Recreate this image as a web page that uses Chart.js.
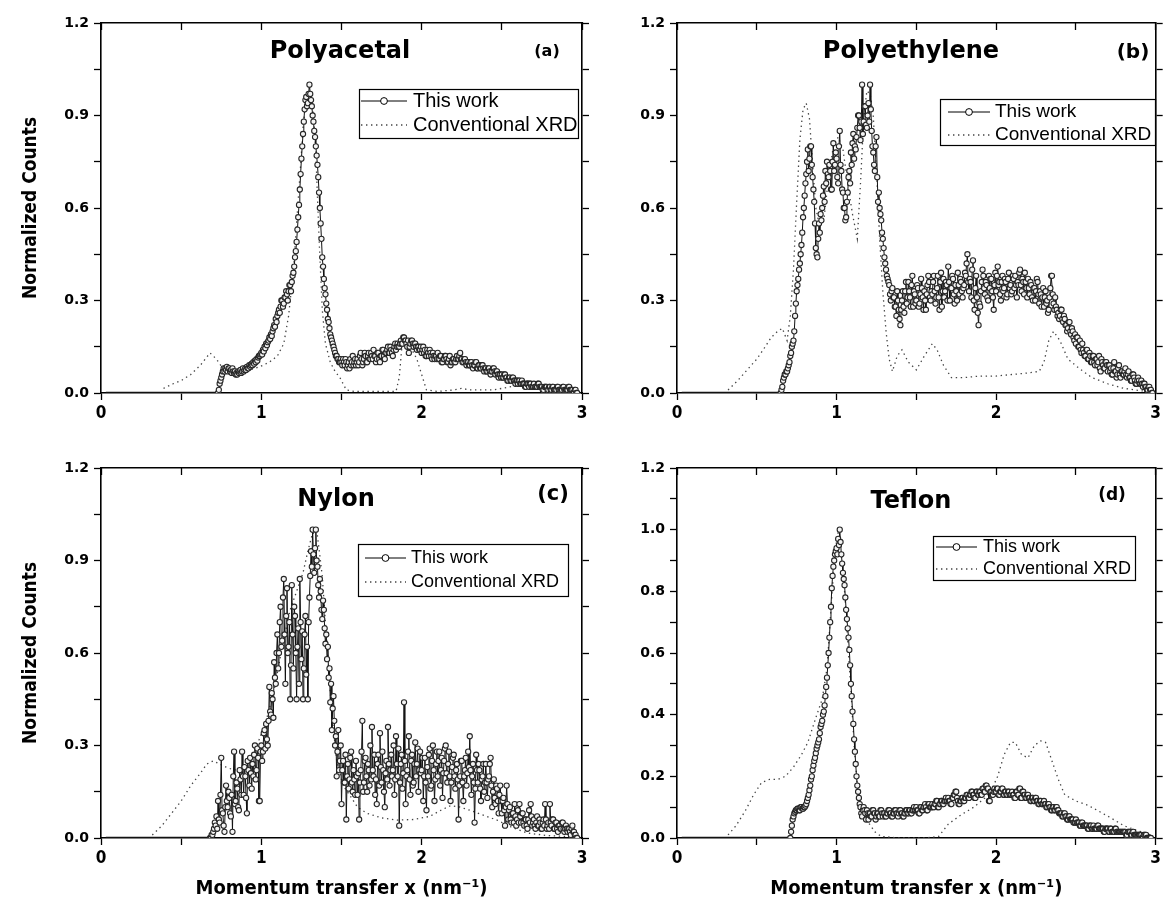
<!DOCTYPE html>
<html><head><meta charset="utf-8">
<script src="https://cdn.jsdelivr.net/npm/chart.js@4/dist/chart.umd.min.js"></script>
<style>
html,body{margin:0;padding:0;background:#fff;}
#wrap{position:relative;width:1164px;height:913px;background:#fff;}
canvas{position:absolute;left:0;top:0;}
</style></head><body>
<div id="wrap">
<canvas id="cA" width="1164" height="913"></canvas>
<canvas id="cB" width="1164" height="913"></canvas>
<canvas id="cC" width="1164" height="913"></canvas>
<canvas id="cD" width="1164" height="913"></canvas>
</div>
<script>
// ---------------- data ----------------
const seriesNames = ['This work', 'Conventional XRD'];
const panelTitles = ['Polyacetal', 'Polyethylene', 'Nylon', 'Teflon'];
const panelTags = ['(a)', '(b)', '(c)', '(d)'];
const yAxisTitle = 'Normalized Counts';
const xAxisTitle = 'Momentum transfer x (nm\u207B\u00B9)';
const xTickLabels = ['0', '1', '2', '3'];

const workStep = 0.005;       // channel spacing of the "This work" series
const baselineStartX = 0.03;  // zero-count stretch begins here

// (a) Polyacetal  (first value at x = 0.73)
const polyacetalWorkStart = 0.73;
const polyacetalWork = [
  0.00,0.01,0.03,0.04,0.05,0.06,0.07,0.08,0.07,0.08,0.075,0.085,0.07,0.08,
  0.08,0.07,0.075,0.065,0.08,0.07,0.065,0.07,0.06,0.065,0.06,0.07,0.065,0.07,0.075,0.065,0.07,0.08,0.07,0.075,
  0.08,0.075,0.085,0.08,0.08,0.09,0.085,0.09,0.095,0.09,0.10,0.095,0.105,0.10,0.11,0.105,0.115,0.12,0.12,0.125,
  0.13,0.125,0.14,0.135,0.15,0.145,0.16,0.155,0.165,0.17,0.18,0.175,0.19,0.185,0.20,0.21,0.22,0.215,0.24,0.23,
  0.25,0.26,0.27,0.26,0.28,0.30,0.30,0.28,0.29,0.31,0.31,0.33,0.32,0.30,0.33,0.35,0.35,0.33,0.36,0.38,
  0.39,0.41,0.44,0.46,0.49,0.53,0.57,0.61,0.66,0.71,0.76,0.80,0.84,0.88,0.92,0.95,0.96,0.93,0.94,0.97,
  1.00,0.97,0.95,0.93,0.90,0.88,0.85,0.83,0.80,0.77,0.74,0.70,0.65,0.60,0.55,0.50,0.44,0.41,0.37,0.34,
  0.32,0.29,0.27,0.24,0.23,0.21,0.19,0.18,0.17,0.16,0.15,0.14,0.13,0.12,0.12,0.11,0.11,0.10,0.10,0.11,
  0.10,0.09,0.11,0.10,0.09,0.11,0.10,0.08,0.09,0.10,0.08,0.11,0.09,0.10,0.12,0.09,0.10,0.11,0.09,0.10,
  0.11,0.09,0.10,0.12,0.13,0.11,0.09,0.10,0.11,0.13,0.12,0.10,0.10,0.12,0.13,0.11,0.11,0.13,0.12,0.11,
  0.14,0.12,0.12,0.10,0.11,0.13,0.13,0.11,0.10,0.12,0.12,0.14,0.14,0.12,0.11,0.13,0.13,0.14,0.15,0.13,
  0.13,0.15,0.14,0.13,0.12,0.14,0.15,0.16,0.14,0.15,0.16,0.15,0.15,0.16,0.17,0.16,0.16,0.18,0.18,0.17,
  0.17,0.16,0.15,0.17,0.13,0.15,0.16,0.17,0.17,0.16,0.15,0.16,0.16,0.15,0.14,0.15,0.15,0.14,0.14,0.15,
  0.13,0.14,0.15,0.13,0.14,0.12,0.12,0.14,0.13,0.12,0.14,0.13,0.12,0.11,0.13,0.12,0.11,0.12,0.12,0.11,
  0.13,0.11,0.11,0.12,0.12,0.10,0.10,0.11,0.11,0.12,0.12,0.11,0.10,0.10,0.11,0.12,0.09,0.10,0.10,0.11,
  0.11,0.10,0.10,0.11,0.12,0.11,0.11,0.12,0.13,0.11,0.11,0.10,0.10,0.11,0.11,0.10,0.09,0.10,0.10,0.09,
  0.09,0.10,0.10,0.09,0.08,0.09,0.09,0.10,0.10,0.08,0.08,0.09,0.09,0.08,0.08,0.09,0.09,0.08,0.07,0.08,
  0.08,0.07,0.07,0.08,0.08,0.07,0.06,0.07,0.07,0.08,0.08,0.07,0.06,0.07,0.07,0.06,0.05,0.06,0.06,0.05,
  0.06,0.05,0.05,0.06,0.06,0.05,0.05,0.04,0.04,0.05,0.05,0.04,0.04,0.05,0.05,0.04,0.04,0.03,0.04,0.04,
  0.03,0.04,0.04,0.03,0.03,0.04,0.03,0.03,0.03,0.02,0.02,0.03,0.03,0.03,0.02,0.03,0.03,0.02,0.02,0.02,
  0.03,0.02,0.02,0.02,0.02,0.03,0.03,0.02,0.02,0.02,0.02,0.01,0.01,0.02,0.02,0.02,0.02,0.01,0.01,0.02,
  0.02,0.01,0.01,0.02,0.02,0.01,0.01,0.01,0.01,0.02,0.02,0.01,0.01,0.01,0.01,0.01,0.02,0.02,0.01,0.01,
  0.01,0.01,0.01,0.02,0.02,0.01,0.01,0.01,0.01,0.00,0.00,0.01,0.01,0.00,0.00
];
const polyacetalXrdX = [0.39,0.45,0.50,0.56,0.62,0.68,0.72,0.76,0.82,0.88,0.93,0.99,1.05,1.10,1.14,1.17,1.20,1.22,1.24,1.26,1.28,1.30,1.32,1.34,1.36,1.38,1.40,1.43,1.46,1.49,1.53,1.58,1.70,1.84,1.86,1.88,1.90,1.94,1.97,2.00,2.03,2.10,2.20,2.25,2.30,2.45,2.55,2.62,2.68,2.75,2.85,2.97];
const polyacetalXrdY = [0.015,0.03,0.04,0.06,0.09,0.13,0.11,0.08,0.065,0.068,0.075,0.085,0.10,0.12,0.16,0.25,0.40,0.55,0.70,0.86,0.96,0.99,0.93,0.78,0.50,0.27,0.16,0.10,0.07,0.05,0.01,0.005,0.005,0.005,0.05,0.17,0.16,0.14,0.11,0.06,0.01,0.005,0.01,0.015,0.01,0.01,0.02,0.025,0.02,0.01,0.01,0.005];

// (b) Polyethylene  (first value at x = 0.65)
const polyethyleneWorkStart = 0.65;
const polyethyleneWork = [
  0.00,0.01,0.02,0.04,0.05,0.06,0.06,0.07,0.07,0.08,
  0.09,0.10,0.12,0.13,0.15,0.16,0.17,0.20,0.25,0.29,0.33,0.35,0.37,0.40,0.42,0.45,0.48,0.52,0.57,0.60,
  0.64,0.68,0.71,0.75,0.79,0.72,0.76,0.80,0.80,0.74,0.70,0.66,0.62,0.55,0.47,0.45,0.44,0.50,0.55,0.52,
  0.58,0.56,0.60,0.64,0.67,0.62,0.72,0.68,0.75,0.71,0.70,0.74,0.72,0.66,0.66,0.75,0.81,0.72,0.74,0.78,
  0.76,0.70,0.68,0.80,0.85,0.74,0.72,0.66,0.65,0.60,0.60,0.56,0.57,0.62,0.65,0.70,0.72,0.68,0.78,0.74,
  0.81,0.84,0.76,0.80,0.79,0.83,0.86,0.90,0.90,0.86,0.82,0.88,1.00,0.84,0.88,0.93,0.93,0.87,0.86,0.90,
  0.94,0.88,1.00,0.92,0.85,0.80,0.78,0.74,0.72,0.80,0.83,0.70,0.62,0.65,0.60,0.58,0.56,0.52,0.50,0.47,
  0.44,0.42,0.40,0.38,0.37,0.36,0.35,0.32,0.30,0.33,0.34,0.31,0.31,0.28,0.28,0.25,0.33,0.30,0.27,0.24,
  0.22,0.27,0.30,0.33,0.28,0.26,0.33,0.36,0.29,0.31,0.36,0.33,0.31,0.28,0.35,0.38,0.28,0.33,0.32,0.29,
  0.30,0.35,0.34,0.28,0.29,0.32,0.37,0.34,0.31,0.27,0.33,0.30,0.27,0.32,0.35,0.38,0.36,0.31,0.30,0.33,
  0.32,0.36,0.38,0.33,0.29,0.31,0.34,0.38,0.31,0.27,0.36,0.39,0.28,0.33,0.37,0.31,0.33,0.36,0.35,0.30,
  0.41,0.36,0.30,0.34,0.34,0.38,0.37,0.32,0.29,0.35,0.33,0.30,0.39,0.35,0.32,0.37,0.36,0.33,0.31,0.34,
  0.35,0.39,0.38,0.42,0.45,0.36,0.33,0.37,0.36,0.31,0.40,0.43,0.30,0.27,0.34,0.38,0.31,0.26,0.22,0.29,
  0.28,0.33,0.36,0.40,0.38,0.34,0.32,0.36,0.35,0.31,0.30,0.38,0.34,0.37,0.37,0.33,0.31,0.27,0.35,0.39,
  0.33,0.38,0.41,0.35,0.36,0.32,0.30,0.36,0.38,0.33,0.34,0.37,0.36,0.31,0.32,0.37,0.39,0.34,0.35,0.32,
  0.33,0.38,0.37,0.34,0.38,0.35,0.31,0.36,0.35,0.39,0.40,0.35,0.33,0.37,0.36,0.32,0.39,0.36,0.34,0.31,
  0.37,0.34,0.32,0.36,0.35,0.31,0.30,0.34,0.34,0.30,0.33,0.37,0.36,0.32,0.29,0.33,0.32,0.28,0.31,0.34,
  0.28,0.31,0.33,0.29,0.30,0.26,0.27,0.31,0.34,0.38,0.38,0.32,0.29,0.27,0.31,0.28,0.27,0.25,0.26,0.24,
  0.25,0.27,0.27,0.24,0.23,0.25,0.24,0.22,0.22,0.20,0.21,0.23,0.23,0.20,0.19,0.21,0.20,0.18,0.17,0.19,
  0.16,0.18,0.18,0.15,0.15,0.17,0.14,0.13,0.16,0.14,0.13,0.12,0.12,0.14,0.14,0.11,0.11,0.13,0.12,0.10,
  0.10,0.12,0.12,0.10,0.09,0.11,0.11,0.09,0.10,0.12,0.08,0.07,0.11,0.10,0.09,0.08,0.08,0.10,0.10,0.09,
  0.07,0.09,0.09,0.07,0.08,0.06,0.06,0.08,0.10,0.07,0.07,0.05,0.06,0.08,0.09,0.06,0.05,0.07,0.07,0.06,
  0.06,0.07,0.08,0.06,0.05,0.06,0.07,0.05,0.05,0.04,0.04,0.06,0.06,0.05,0.04,0.03,0.03,0.04,0.05,0.04,
  0.03,0.03,0.04,0.03,0.02,0.03,0.03,0.02,0.02,0.01,0.01,0.02,0.02,0.01,0.01,0.00,0.00
];
const polyethyleneXrdX = [0.32,0.38,0.44,0.50,0.54,0.59,0.63,0.66,0.69,0.71,0.73,0.75,0.77,0.79,0.81,0.83,0.85,0.87,0.89,0.92,0.95,0.98,1.01,1.04,1.07,1.10,1.13,1.15,1.17,1.19,1.21,1.23,1.25,1.27,1.29,1.31,1.33,1.35,1.38,1.41,1.45,1.50,1.55,1.60,1.63,1.67,1.72,1.80,1.90,2.00,2.10,2.20,2.27,2.30,2.33,2.36,2.40,2.45,2.52,2.60,2.70,2.80,2.90,2.97];
const polyethyleneXrdY = [0.01,0.04,0.075,0.11,0.14,0.18,0.20,0.21,0.17,0.25,0.40,0.62,0.82,0.92,0.94,0.89,0.74,0.60,0.55,0.56,0.70,0.80,0.83,0.79,0.68,0.58,0.50,0.68,0.89,0.98,0.97,0.90,0.72,0.50,0.33,0.20,0.11,0.07,0.12,0.14,0.10,0.075,0.12,0.16,0.14,0.09,0.05,0.05,0.055,0.055,0.06,0.065,0.07,0.10,0.17,0.20,0.17,0.11,0.08,0.05,0.03,0.015,0.008,0.003];

// (c) Nylon  (first value at x = 0.68)
const nylonWorkStart = 0.68;
const nylonWork = [
  0.00,0.00,0.01,0.01,
  0.02,0.03,0.05,0.04,0.07,0.03,0.12,0.06,0.05,0.14,0.26,0.09,0.08,0.04,0.02,0.10,0.17,0.12,0.10,0.15,
  0.13,0.08,0.07,0.14,0.02,0.20,0.28,0.11,0.12,0.18,0.16,0.10,0.09,0.22,0.19,0.14,0.28,0.20,0.14,0.23,
  0.20,0.13,0.08,0.25,0.22,0.17,0.26,0.21,0.16,0.24,0.20,0.27,0.30,0.19,0.22,0.29,0.26,0.12,0.12,0.28,
  0.30,0.25,0.28,0.34,0.35,0.29,0.37,0.32,0.30,0.38,0.49,0.41,0.40,0.47,0.45,0.39,0.57,0.52,0.50,0.60,
  0.66,0.55,0.60,0.70,0.75,0.62,0.64,0.78,0.84,0.66,0.50,0.72,0.81,0.60,0.62,0.70,0.45,0.56,0.82,0.66,
  0.55,0.75,0.72,0.60,0.45,0.62,0.68,0.50,0.84,0.70,0.58,0.67,0.45,0.55,0.66,0.72,0.53,0.62,0.45,0.70,
  0.78,0.85,0.93,0.88,1.00,0.92,0.86,0.94,1.00,0.90,0.88,0.82,0.78,0.84,0.80,0.74,0.71,0.77,0.74,0.68,
  0.63,0.66,0.58,0.62,0.52,0.55,0.44,0.50,0.35,0.42,0.46,0.38,0.30,0.33,0.20,0.28,0.35,0.22,0.25,0.30,
  0.11,0.22,0.25,0.18,0.18,0.27,0.06,0.20,0.24,0.16,0.19,0.26,0.28,0.18,0.15,0.22,0.19,0.14,0.25,0.20,
  0.14,0.21,0.06,0.18,0.22,0.28,0.38,0.15,0.18,0.25,0.26,0.20,0.15,0.24,0.22,0.17,0.30,0.19,0.36,0.22,
  0.20,0.27,0.14,0.19,0.11,0.24,0.27,0.17,0.34,0.23,0.18,0.28,0.22,0.15,0.10,0.21,0.25,0.19,0.36,0.24,
  0.17,0.22,0.27,0.20,0.22,0.30,0.14,0.19,0.33,0.24,0.20,0.29,0.04,0.18,0.24,0.27,0.16,0.21,0.44,0.25,
  0.11,0.20,0.22,0.28,0.33,0.19,0.14,0.25,0.27,0.17,0.18,0.24,0.31,0.20,0.24,0.29,0.15,0.22,0.28,0.21,
  0.22,0.26,0.12,0.20,0.26,0.18,0.09,0.23,0.20,0.27,0.29,0.16,0.17,0.25,0.30,0.22,0.12,0.19,0.24,0.28,
  0.20,0.25,0.28,0.17,0.22,0.26,0.13,0.21,0.25,0.29,0.30,0.21,0.18,0.24,0.28,0.20,0.12,0.18,0.23,0.26,
  0.27,0.20,0.16,0.22,0.24,0.19,0.06,0.17,0.20,0.25,0.25,0.18,0.12,0.20,0.22,0.26,0.17,0.21,0.28,0.23,
  0.33,0.22,0.14,0.20,0.24,0.18,0.05,0.16,0.27,0.22,0.18,0.24,0.22,0.16,0.12,0.19,0.20,0.24,0.15,0.18,
  0.24,0.18,0.13,0.19,0.20,0.24,0.26,0.17,0.10,0.15,0.19,0.13,0.11,0.17,0.16,0.12,0.08,0.14,0.17,0.12,
  0.08,0.12,0.13,0.09,0.04,0.10,0.17,0.11,0.06,0.09,0.10,0.06,0.05,0.08,0.08,0.05,0.11,0.07,0.04,0.06,
  0.09,0.05,0.11,0.07,0.05,0.08,0.08,0.05,0.04,0.06,0.06,0.04,0.03,0.06,0.09,0.05,0.11,0.07,0.04,0.05,
  0.06,0.04,0.03,0.05,0.07,0.04,0.04,0.06,0.05,0.03,0.03,0.05,0.06,0.04,0.11,0.06,0.03,0.04,0.05,0.03,
  0.11,0.05,0.04,0.06,0.06,0.03,0.03,0.05,0.05,0.03,0.02,0.04,0.04,0.03,0.03,0.05,0.05,0.03,0.02,0.03,
  0.04,0.03,0.02,0.03,0.03,0.02,0.01,0.03,0.04,0.02,0.02,0.01,0.01,0.00,0.00
];
const nylonXrdX = [0.32,0.38,0.44,0.50,0.56,0.62,0.66,0.70,0.74,0.78,0.83,0.88,0.93,0.98,1.03,1.08,1.13,1.18,1.22,1.26,1.29,1.32,1.35,1.38,1.41,1.44,1.47,1.51,1.55,1.60,1.66,1.75,1.85,1.95,2.05,2.12,2.18,2.24,2.30,2.38,2.47,2.56,2.66,2.78,2.90,2.97];
const nylonXrdY = [0.01,0.04,0.08,0.12,0.17,0.21,0.24,0.25,0.24,0.23,0.22,0.23,0.26,0.31,0.38,0.48,0.62,0.74,0.80,0.86,0.93,0.99,0.98,0.85,0.62,0.40,0.25,0.17,0.14,0.10,0.08,0.065,0.058,0.06,0.07,0.09,0.105,0.10,0.09,0.075,0.058,0.035,0.016,0.008,0.005,0.003];

// (d) Teflon  (first value at x = 0.71)
const teflonWorkStart = 0.71;
const teflonWork = [
  0.00,0.02,0.04,0.06,0.07,0.08,0.085,0.09,0.09,0.095,0.095,0.09,0.09,0.10,0.10,0.095,0.095,0.10,
  0.10,0.105,0.11,0.12,0.13,0.14,0.155,0.17,0.19,0.20,0.22,0.235,0.25,0.26,0.275,0.29,0.30,0.31,0.32,0.34,
  0.36,0.37,0.38,0.40,0.41,0.43,0.46,0.49,0.52,0.56,0.60,0.65,0.70,0.75,0.81,0.85,0.88,0.90,0.92,0.93,
  0.94,0.92,0.97,0.95,1.00,0.96,0.92,0.89,0.86,0.84,0.82,0.78,0.74,0.71,0.68,0.65,0.61,0.56,0.50,0.46,
  0.41,0.37,0.32,0.28,0.24,0.20,0.17,0.15,0.13,0.11,0.10,0.08,0.07,0.09,0.10,0.09,0.08,0.06,0.09,0.08,
  0.06,0.08,0.08,0.07,0.07,0.09,0.09,0.08,0.08,0.06,0.07,0.08,0.08,0.07,0.07,0.09,0.09,0.08,0.07,0.08,
  0.08,0.07,0.07,0.08,0.08,0.09,0.09,0.08,0.08,0.07,0.07,0.08,0.08,0.09,0.09,0.08,0.08,0.07,0.08,0.09,
  0.09,0.08,0.08,0.07,0.07,0.08,0.08,0.09,0.09,0.08,0.08,0.09,0.09,0.08,0.08,0.09,0.09,0.10,0.09,0.09,
  0.10,0.09,0.09,0.08,0.08,0.10,0.10,0.09,0.09,0.10,0.10,0.11,0.10,0.09,0.09,0.11,0.11,0.10,0.10,0.10,
  0.11,0.10,0.10,0.11,0.11,0.12,0.12,0.10,0.10,0.11,0.11,0.12,0.12,0.11,0.11,0.12,0.12,0.13,0.12,0.12,
  0.13,0.12,0.12,0.11,0.11,0.13,0.13,0.14,0.14,0.15,0.15,0.13,0.12,0.11,0.11,0.12,0.12,0.13,0.13,0.12,
  0.12,0.13,0.13,0.14,0.14,0.13,0.13,0.14,0.14,0.15,0.15,0.14,0.14,0.13,0.13,0.15,0.15,0.14,0.14,0.15,
  0.15,0.14,0.14,0.16,0.16,0.15,0.15,0.17,0.17,0.16,0.16,0.12,0.12,0.15,0.15,0.14,0.14,0.15,0.16,0.15,
  0.15,0.16,0.16,0.14,0.14,0.15,0.15,0.16,0.16,0.14,0.14,0.15,0.15,0.14,0.14,0.15,0.15,0.14,0.14,0.14,
  0.15,0.14,0.14,0.13,0.13,0.15,0.15,0.14,0.14,0.16,0.16,0.13,0.13,0.15,0.15,0.14,0.14,0.13,0.13,0.14,
  0.14,0.13,0.13,0.12,0.12,0.13,0.13,0.12,0.12,0.13,0.13,0.12,0.12,0.11,0.11,0.12,0.12,0.11,0.11,0.11,
  0.12,0.11,0.11,0.10,0.10,0.11,0.11,0.10,0.10,0.09,0.09,0.10,0.10,0.09,0.09,0.10,0.10,0.09,0.09,0.08,
  0.08,0.08,0.08,0.07,0.07,0.08,0.08,0.07,0.07,0.06,0.06,0.07,0.07,0.06,0.06,0.06,0.06,0.05,0.05,0.05,
  0.06,0.05,0.05,0.05,0.05,0.04,0.04,0.05,0.05,0.04,0.04,0.04,0.04,0.04,0.04,0.03,0.03,0.04,0.04,0.04,
  0.03,0.03,0.04,0.03,0.03,0.03,0.03,0.04,0.04,0.03,0.03,0.03,0.03,0.03,0.03,0.02,0.02,0.03,0.03,0.03,
  0.03,0.02,0.02,0.03,0.03,0.02,0.02,0.02,0.02,0.03,0.03,0.02,0.02,0.02,0.02,0.02,0.02,0.02,0.02,0.02,
  0.02,0.02,0.02,0.01,0.01,0.02,0.02,0.02,0.02,0.01,0.01,0.02,0.02,0.01,0.01,0.01,0.01,0.01,0.01,0.01,
  0.01,0.01,0.01,0.00,0.00,0.01,0.01,0.01,0.01,0.00,0.00,0.00,0.00,0.00,0.00
];
const teflonXrdX = [0.32,0.37,0.43,0.48,0.53,0.58,0.63,0.68,0.73,0.78,0.82,0.87,0.91,0.94,0.97,0.99,1.01,1.03,1.05,1.07,1.09,1.11,1.13,1.16,1.20,1.24,1.28,1.40,1.55,1.64,1.70,1.78,1.86,1.93,1.97,2.01,2.05,2.09,2.12,2.16,2.20,2.24,2.28,2.31,2.35,2.39,2.43,2.50,2.58,2.65,2.72,2.80,2.88,2.97];
const teflonXrdY = [0.01,0.04,0.09,0.14,0.18,0.19,0.19,0.20,0.23,0.27,0.31,0.39,0.45,0.55,0.78,0.93,0.99,0.93,0.80,0.64,0.48,0.30,0.17,0.09,0.05,0.02,0.005,0.0,0.0,0.005,0.045,0.075,0.10,0.13,0.155,0.20,0.27,0.31,0.31,0.27,0.26,0.30,0.315,0.31,0.25,0.19,0.14,0.12,0.105,0.085,0.065,0.04,0.025,0.01];

// ---------------- helpers ----------------
function workPoints(start, values) {
  const pts = [{x: baselineStartX, y: 0}];
  values.forEach((v, i) => pts.push({x: +(start + i * workStep).toFixed(4), y: v}));
  return pts;
}
function pairPoints(xs, ys) { return xs.map((x, i) => ({x: x, y: ys[i]})); }

const BOLD_WIDE = '"DejaVu Sans", "Liberation Sans", sans-serif';
const NARROW = '"Liberation Sans Narrow", "DejaVu Sans Condensed", "Liberation Sans", sans-serif';
const REGULAR = '"Liberation Sans", Arial, sans-serif';

const decor = {
  id: 'decor',
  afterDraw(chart, args, o) {
    const ctx = chart.ctx;
    ctx.save();
    ctx.fillStyle = '#000';
    ctx.textBaseline = 'middle';
    ctx.textAlign = 'center';
    ctx.font = 'bold ' + o.titleSize + 'px ' + BOLD_WIDE;
    ctx.fillText(o.title, o.titleX, o.titleY);
    ctx.font = 'bold ' + o.tagSize + 'px ' + BOLD_WIDE;
    ctx.fillText(o.tag, o.tagX, o.tagY);
    const L = o.legend;
    ctx.lineWidth = 1.2;
    ctx.strokeStyle = '#000';
    ctx.strokeRect(L.x + 0.5, L.y + 0.5, L.w, L.h);
    const ds = chart.data.datasets;
    ctx.beginPath();
    ctx.lineWidth = 1;
    ctx.moveTo(L.sx1, L.r1); ctx.lineTo(L.sx2, L.r1); ctx.stroke();
    ctx.beginPath();
    ctx.arc((L.sx1 + L.sx2) / 2, L.r1, 3.4, 0, Math.PI * 2);
    ctx.fillStyle = '#fff'; ctx.fill(); ctx.stroke();
    ctx.beginPath();
    ctx.setLineDash([1.4, 3.6]);
    ctx.strokeStyle = '#444'; ctx.lineWidth = 1.3;
    ctx.moveTo(L.sx1, L.r2); ctx.lineTo(L.sx2, L.r2); ctx.stroke();
    ctx.setLineDash([]);
    ctx.fillStyle = '#000';
    ctx.textAlign = 'left';
    ctx.font = L.size + 'px ' + REGULAR;
    ctx.fillText(ds[0].label, L.tx, L.r1);
    ctx.fillText(ds[1].label, L.tx, L.r2);
    ctx.restore();
  }
};

const panels = [
  {id: 'cA', idx: 0, work: workPoints(polyacetalWorkStart, polyacetalWork), xrd: pairPoints(polyacetalXrdX, polyacetalXrdY),
   area: {l: 101, t: 23, r: 582, b: 393}, yStep: 0.15, yLabelEvery: 30, yTitle: true, xTitle: false,
   title: {x: 340, y: 52}, tag: {x: 547, y: 52, size: 16},
   legend: {x: 359, y: 89, w: 219, h: 49, r1: 101, r2: 125, sx1: 361, sx2: 407, tx: 413, size: 20}},
  {id: 'cB', idx: 1, work: workPoints(polyethyleneWorkStart, polyethyleneWork), xrd: pairPoints(polyethyleneXrdX, polyethyleneXrdY),
   area: {l: 677, t: 23, r: 1158, b: 393}, yStep: 0.15, yLabelEvery: 30, yTitle: false, xTitle: false,
   title: {x: 911, y: 52}, tag: {x: 1133, y: 53, size: 20},
   legend: {x: 940, y: 99, w: 215, h: 46, r1: 112, r2: 135, sx1: 948, sx2: 990, tx: 995, size: 19}},
  {id: 'cC', idx: 2, work: workPoints(nylonWorkStart, nylonWork), xrd: pairPoints(nylonXrdX, nylonXrdY),
   area: {l: 101, t: 468, r: 582, b: 838}, yStep: 0.15, yLabelEvery: 30, yTitle: true, xTitle: true,
   title: {x: 336, y: 500}, tag: {x: 553, y: 495, size: 21},
   legend: {x: 358, y: 544, w: 210, h: 52, r1: 558, r2: 582, sx1: 365, sx2: 406, tx: 411, size: 18}},
  {id: 'cD', idx: 3, work: workPoints(teflonWorkStart, teflonWork), xrd: pairPoints(teflonXrdX, teflonXrdY),
   area: {l: 677, t: 468, r: 1158, b: 838}, yStep: 0.1, yLabelEvery: 20, yTitle: false, xTitle: true,
   title: {x: 911, y: 502}, tag: {x: 1112, y: 496, size: 17},
   legend: {x: 933, y: 536, w: 202, h: 44, r1: 547, r2: 569, sx1: 936, sx2: 977, tx: 983, size: 18}}
];

const W = 1164, H = 913;

function axisCommon() {
  return {
    border: {display: true, color: '#000', width: 1.6},
    grid: {drawOnChartArea: false, drawTicks: true, tickLength: 7, tickColor: '#000', tickWidth: 1.3}
  };
}

panels.forEach(p => {
  const yW = p.yTitle ? 101 : 77;
  const xH = p.xTitle ? 75 : 40;
  new Chart(document.getElementById(p.id), {
    type: 'line',
    data: {
      datasets: [
        {label: seriesNames[0], data: p.work, xAxisID: 'x', yAxisID: 'y',
         borderColor: '#111', borderWidth: 1, tension: 0,
         pointRadius: c => c.dataIndex === 0 ? 0 : 2.6, pointHoverRadius: 2.6,
         pointBackgroundColor: '#f4f4f4', pointBorderColor: '#262626', pointBorderWidth: 1.1,
         segment: {borderWidth: c => c.p0DataIndex === 0 ? 2.6 : 1}},
        {label: seriesNames[1], data: p.xrd, xAxisID: 'x', yAxisID: 'y',
         borderColor: '#444', borderWidth: 1.3, borderDash: [1.4, 3.6], tension: 0, pointRadius: 0}
      ]
    },
    options: {
      responsive: false, animation: false, events: [],
      layout: {padding: {left: p.area.l - yW, right: W - p.area.r, top: p.area.t, bottom: H - p.area.b - xH}},
      plugins: {
        legend: {display: false}, tooltip: {enabled: false},
        decor: {title: panelTitles[p.idx], titleX: p.title.x, titleY: p.title.y, titleSize: 24,
                tag: panelTags[p.idx], tagX: p.tag.x, tagY: p.tag.y, tagSize: p.tag.size, legend: p.legend}
      },
      scales: {
        x: Object.assign(axisCommon(), {
          type: 'linear', position: 'bottom', min: 0, max: 3,
          afterFit: s => { s.height = xH; },
          ticks: {stepSize: 0.5, autoSkip: false, maxRotation: 0, padding: 3, color: '#000',
                  font: {family: NARROW, size: 17, weight: 'bold'},
                  callback: v => Number.isInteger(v) ? xTickLabels[v] : ''},
          title: {display: p.xTitle, text: xAxisTitle, color: '#000', padding: 12,
                  font: {family: NARROW, size: 20, weight: 'bold'}}
        }),
        x2: Object.assign(axisCommon(), {
          type: 'linear', axis: 'x', position: 'top', min: 0, max: 3,
          afterFit: s => { s.height = 0; },
          grid: {drawOnChartArea: false, drawTicks: true, tickLength: -7, tickColor: '#000', tickWidth: 1.3},
          ticks: {stepSize: 0.5, display: false, autoSkip: false}
        }),
        y: Object.assign(axisCommon(), {
          type: 'linear', position: 'left', min: 0, max: 1.2,
          afterFit: s => { s.width = yW; },
          ticks: {stepSize: p.yStep, autoSkip: false, padding: 5, color: '#000',
                  font: {family: BOLD_WIDE, size: 14, weight: 'bold'},
                  callback: v => (Math.round(v * 100) % p.yLabelEvery === 0) ? v.toFixed(1) : ''},
          title: {display: p.yTitle, text: yAxisTitle, color: '#000', padding: 20,
                  font: {family: NARROW, size: 19, weight: 'bold'}}
        }),
        y2: Object.assign(axisCommon(), {
          type: 'linear', axis: 'y', position: 'right', min: 0, max: 1.2,
          afterFit: s => { s.width = 0; },
          ticks: {stepSize: p.yStep, display: false, autoSkip: false}
        })
      }
    },
    plugins: [decor]
  });
});
</script>
</body></html>
